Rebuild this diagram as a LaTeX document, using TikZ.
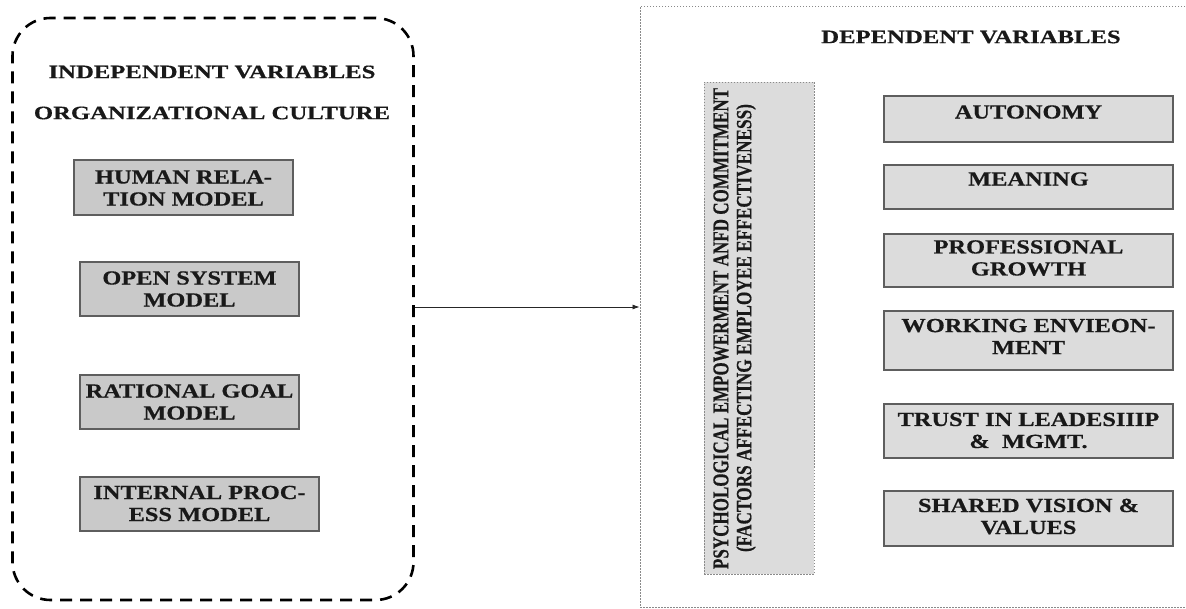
\documentclass[tikz,border=0pt]{standalone}
\usepackage{fontspec}
\setmainfont{Liberation Serif}[BoldFeatures={FakeBold=0.5}]
\usetikzlibrary{arrows.meta}
\definecolor{lgray}{HTML}{C9C9C9}
\definecolor{rgray}{HTML}{DCDCDC}
\definecolor{boxline}{HTML}{5E5E5E}
\definecolor{dotline}{HTML}{8A8A8A}
\newcommand{\wtxt}[1]{\scalebox{1.3}[1]{#1}}
\newcommand{\btxt}[1]{\scalebox{1.22}[1]{#1}}
\begin{document}
\begin{tikzpicture}[x=1pt,y=-1pt,
  lbox/.style={draw=boxline, fill=lgray, line width=1.1pt, rectangle, inner sep=0pt, outer sep=0pt},
  rbox/.style={draw=boxline, fill=rgray, line width=1.1pt, rectangle, inner sep=0pt, outer sep=0pt},
  ttl/.style={font=\fontsize{19}{21.5}\selectfont\bfseries, align=center, text=black!90, inner sep=0pt},
  txt/.style={font=\fontsize{20}{22}\selectfont\bfseries, align=center, text=black!90, inner sep=0pt},
  vtxt/.style={font=\fontsize{15}{15}\selectfont\bfseries, text=black!90, inner sep=0pt, rotate=90}]
\useasboundingbox (0,0) rectangle (1186,609);
\fill[white] (0,0) rectangle (1186,609);
% outer containers
\node[draw=black, line width=2.6pt, dash pattern=on 12pt off 8pt, rounded corners=38pt,
      minimum width=401pt, minimum height=582pt, inner sep=0pt] (indep) at (213,309) {};
\node[draw=dotline, line width=0.9pt, dash pattern=on 1.5pt off 1.5pt,
      minimum width=560pt, minimum height=601pt, inner sep=0pt] (dep) at (920,306.5) {};
% left texts
\node[ttl] (indeptitle) at (212,72) {\wtxt{INDEPENDENT VARIABLES}};
\node[ttl] (orgcult) at (212,113) {\wtxt{ORGANIZATIONAL CULTURE}};
% left boxes
\node[lbox, minimum width=219pt, minimum height=55pt] (hr) at (183.5,187.5) {};
\node[txt] (hrt) at (183.5,188) {\btxt{HUMAN RELA-}\\\btxt{TION MODEL}};
\node[lbox, minimum width=219pt, minimum height=54pt] (os) at (189.5,289) {};
\node[txt] (ost) at (189.5,289) {\btxt{OPEN SYSTEM}\\\btxt{MODEL}};
\node[lbox, minimum width=219pt, minimum height=54pt] (rg) at (189.5,402) {};
\node[txt] (rgt) at (189.5,402) {\btxt{RATIONAL GOAL}\\\btxt{MODEL}};
\node[lbox, minimum width=239pt, minimum height=54pt] (ip) at (199.5,504) {};
\node[txt] (ipt) at (199.5,503.5) {\btxt{INTERNAL PROC-}\\\btxt{ESS MODEL}};
% right texts
\node[ttl] (deptitle) at (971,37) {\wtxt{DEPENDENT VARIABLES}};
% vertical box
\node[draw=dotline, fill=rgray, line width=0.9pt, dash pattern=on 1.5pt off 1.5pt,
      minimum width=110pt, minimum height=492pt, inner sep=0pt] (pe) at (759,328) {};
\node[vtxt] (pe1) at (721,328.5) {\resizebox{481pt}{15pt}{PSYCHOLOGICAL EMPOWERMENT ANFD COMMITMENT}};
\node[vtxt] (pe2) at (746,328) {\resizebox{448pt}{1.45\height}{(FACTORS AFFECTING EMPLOYEE EFFECTIVENESS)}};
% right boxes
\node[rbox, minimum width=289pt, minimum height=46pt] (au) at (1028.5,119) {};
\node[txt] (aut) at (1028.5,112) {\btxt{AUTONOMY}};
\node[rbox, minimum width=289pt, minimum height=44pt] (me) at (1028.5,187) {};
\node[txt] (met) at (1028.5,179) {\btxt{MEANING}};
\node[rbox, minimum width=289pt, minimum height=53pt] (pg) at (1028.5,260.5) {};
\node[txt] (pgt) at (1028.5,258) {\btxt{PROFESSIONAL}\\\btxt{GROWTH}};
\node[rbox, minimum width=289pt, minimum height=59pt] (we) at (1028.5,340.5) {};
\node[txt] (wet) at (1028.5,336.5) {\btxt{WORKING ENVIEON-}\\\btxt{MENT}};
\node[rbox, minimum width=289pt, minimum height=54pt] (tl) at (1028.5,431) {};
\node[txt] (tlt) at (1028.5,430.5) {\btxt{TRUST IN LEADESIIIP}\\\btxt{\&\ \ MGMT.}};
\node[rbox, minimum width=289pt, minimum height=55pt] (sv) at (1028.5,518.5) {};
\node[txt] (svt) at (1028.5,516.5) {\btxt{SHARED VISION \&}\\\btxt{VALUES}};
% connector
\coordinate (ay) at (0,307);
\draw[-{Latex[length=7pt,width=5pt]}, line width=0.8pt, draw=black!85] (indep.east |- ay) -- (dep.west |- ay);
\end{tikzpicture}
\end{document}
